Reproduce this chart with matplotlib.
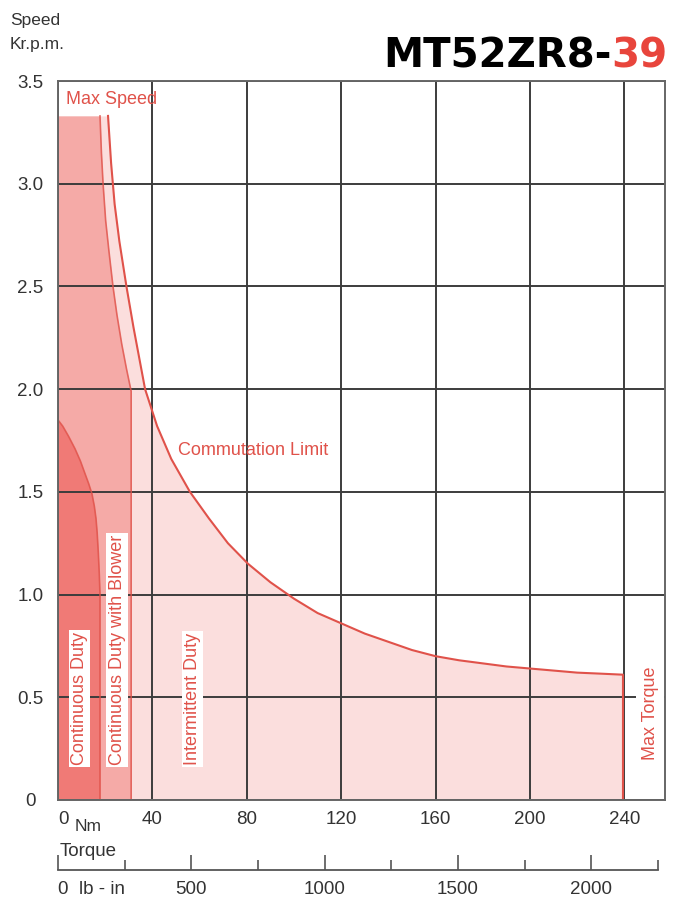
import numpy as np
import matplotlib
matplotlib.use('Agg')
from matplotlib import pyplot as plt
from matplotlib import transforms

# torque in Nm, speed in Kr.p.m.
comm_torque = [0, 21.2, 22.5, 24, 26, 29, 32, 36.9, 42, 48, 55.9, 64, 72, 80.5, 90, 100, 110, 120,
               130, 140, 150, 160, 170, 180, 190, 200, 210, 220, 230, 239.4]
comm_speed = [3.33, 3.33, 3.1, 2.9, 2.72, 2.5, 2.3, 2.0, 1.82, 1.66, 1.5, 1.37, 1.25, 1.15, 1.06, 0.98,
              0.91, 0.86, 0.81, 0.77, 0.73, 0.70, 0.68, 0.665, 0.65, 0.64, 0.63, 0.62, 0.615, 0.61]

blower_torque = [0, 17.8, 18.4, 19.1, 20.2, 21.6, 23.3, 25.0, 27.0, 29.0, 31.0, 31.0]
blower_speed = [3.33, 3.33, 3.15, 3.0, 2.82, 2.67, 2.5, 2.36, 2.22, 2.1, 1.99, 0]

cont_torque = [0, 2.0, 4.5, 7.2, 9.5, 11.4, 13.0, 14.4, 15.4, 16.1, 16.6, 17.1, 17.5, 17.8, 17.8]
cont_speed = [1.85, 1.82, 1.77, 1.71, 1.65, 1.59, 1.54, 1.49, 1.43, 1.37, 1.30, 1.20, 1.10, 1.0, 0]

nm_ticks = [0, 40, 80, 120, 160, 200, 240]
nm_labels = ['0', '40', '80', '120', '160', '200', '240']
speed_ticks = [0, 0.5, 1.0, 1.5, 2.0, 2.5, 3.0, 3.5]
speed_labels = ['0', '0.5', '1.0', '1.5', '2.0', '2.5', '3.0', '3.5']
lbin_major = [0, 500, 1000, 1500, 2000]
lbin_labels = ['0  lb - in', '500', '1000', '1500', '2000']
lbin_minor = [250, 750, 1250, 1750, 2250]
NM_TO_LBIN = 8.8507

red = '#e0524a'
c_cont = '#f07a76'
c_blower = '#f5aaa7'
c_inter = '#fbdedd'
grid_c = '#3c3c3c'
txt_c = '#333333'

plt.rcParams['font.family'] = ['Liberation Sans', 'DejaVu Sans']

W, H = 675, 907
fig = plt.figure(figsize=(W / 100, H / 100), dpi=100)

x0, x1 = 58, 665
y0, y1 = 800, 81
ax = fig.add_axes([x0 / W, 1 - y0 / H, (x1 - x0) / W, (y0 - y1) / H])
ax.set_xlim(0, (x1 - x0) / 2.36)
ax.set_ylim(0, 3.5)

ax.fill_between(comm_torque + [comm_torque[-1]], comm_speed + [0], 0, color=c_inter, lw=0, zorder=1)
ax.fill_between(blower_torque, blower_speed, 0, color=c_blower, lw=0, zorder=1.1)
ax.fill_between(cont_torque, cont_speed, 0, color=c_cont, lw=0, zorder=1.2)

ax.plot(comm_torque[1:] + [comm_torque[-1]], comm_speed[1:] + [0], color=red, lw=1.5, zorder=3)
ax.plot(blower_torque[1:], blower_speed[1:], color=red, lw=1.2, alpha=0.8, zorder=3)
ax.plot(cont_torque, cont_speed, color=red, lw=1.2, alpha=0.8, zorder=3)

ax.set_xticks(nm_ticks, nm_labels)
ax.set_yticks(speed_ticks, speed_labels)
ax.grid(True, color=grid_c, lw=1.4)
ax.set_axisbelow(False)
for s in ax.spines.values():
    s.set_color('#666666')
    s.set_linewidth(1.4)
    s.set_zorder(5)
ax.tick_params(axis='x', length=0, pad=8, labelsize=13.5, labelcolor=txt_c)
ax.tick_params(axis='y', length=0, pad=20, labelsize=13.5, labelcolor=txt_c)
for t in ax.get_yticklabels():
    t.set_horizontalalignment('center')
ax.get_xticklabels()[0].set_horizontalalignment('left')

ax.text(3.3, 3.41, 'Max Speed', color=red, fontsize=13, va='center', ha='left')
ax.text(51.0, 1.70, 'Commutation Limit', color=red, fontsize=13, va='center', ha='left')
box = dict(boxstyle='square,pad=0.12', fc='white', ec='none')
ax.text(9.0, 0.17, 'Continuous Duty', color=red, fontsize=13, rotation=90,
        ha='center', va='bottom', bbox=box, zorder=4)
ax.text(25.0, 0.17, 'Continuous Duty with Blower', color=red, fontsize=13, rotation=90,
        ha='center', va='bottom', bbox=box, zorder=4)
ax.text(57.0, 0.17, 'Intermittent Duty', color=red, fontsize=13, rotation=90,
        ha='center', va='bottom', bbox=box, zorder=4)
ax.text(251.0, 0.42, 'Max Torque', color=red, fontsize=13, rotation=90,
        ha='center', va='center', bbox=dict(boxstyle='square,pad=0.3', fc='white', ec='none'), zorder=4)

tr = transforms.blended_transform_factory(ax.transData, ax.transAxes)
ax.text(7.0, -0.026, 'Nm', transform=tr, fontsize=12.5, color=txt_c, ha='left', va='top')
ax.text(0.5, -0.072, 'Torque', transform=tr, fontsize=13.5, color=txt_c, ha='left', va='center')

# second torque scale in lb-in
ly = 870
lb = fig.add_axes([x0 / W, 1 - ly / H, (x1 - x0) / W, 0.0001])
lb.set_xlim(0, (x1 - x0) / 2.36 * NM_TO_LBIN)
lb.patch.set_visible(False)
for k in ['top', 'left', 'right']:
    lb.spines[k].set_visible(False)
lb.spines['bottom'].set_bounds(0, 2250)
lb.spines['bottom'].set_color('#555555')
lb.spines['bottom'].set_linewidth(1.3)
lb.set_yticks([])
lb.set_xticks(lbin_major, lbin_labels)
lb.set_xticks(lbin_minor, minor=True)
lb.tick_params(axis='x', which='major', direction='in', length=11, width=1.2, color='#555555',
               pad=8, labelsize=13.5, labelcolor=txt_c)
lb.tick_params(axis='x', which='minor', direction='in', length=7, width=1.2, color='#555555')
lb.get_xticklabels()[0].set_horizontalalignment('left')

fig.text(10 / W, 1 - 20 / H, 'Speed', fontsize=12.5, color=txt_c, ha='left', va='center')
fig.text(10 / W, 1 - 45 / H, 'Kr.p.m.', fontsize=12.5, color=txt_c, ha='left', va='center')

t39 = fig.text(668 / W, 1 - 56 / H, '39', fontsize=29, fontweight='heavy', color='#e8453c',
               family='DejaVu Sans', ha='right', va='center')
ax.annotate('MT52ZR8-', xy=(0, 0.5), xycoords=t39, ha='right', va='center',
            fontsize=29, fontweight='heavy', color='black', family='DejaVu Sans',
            annotation_clip=False)

fig.savefig('out.png', dpi=100)
